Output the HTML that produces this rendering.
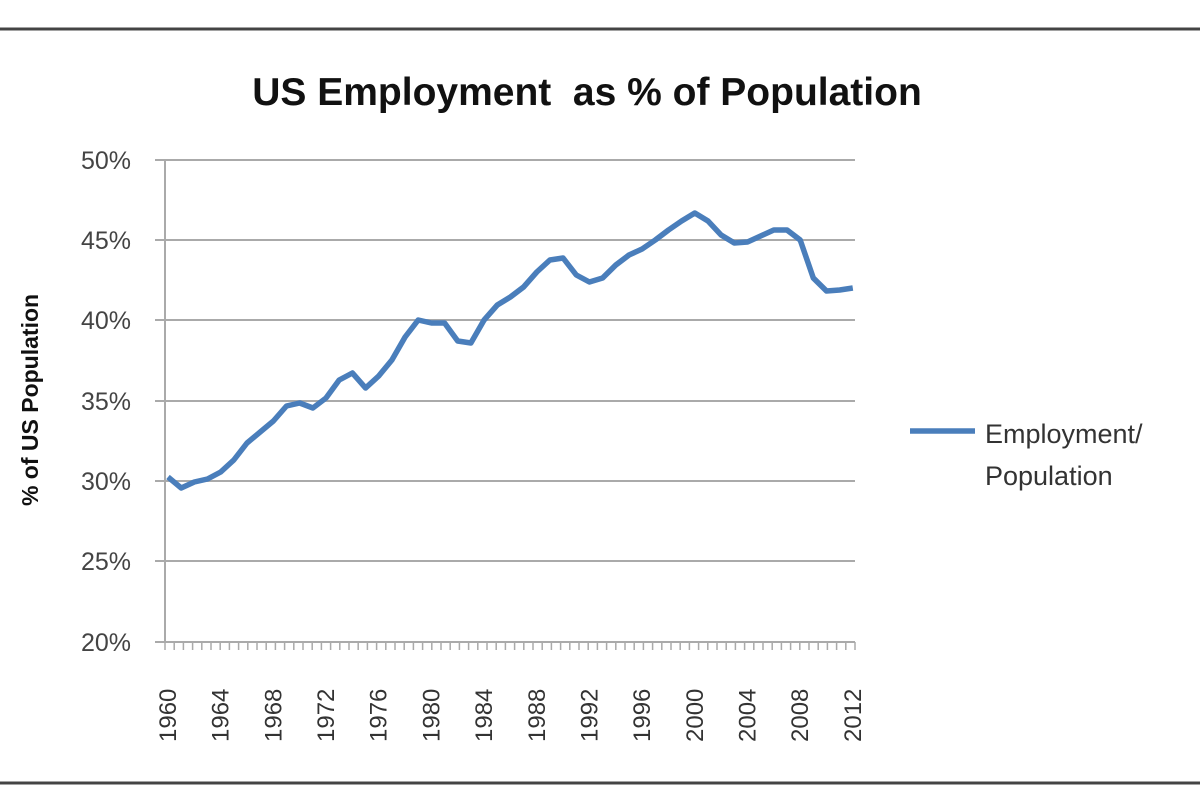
<!DOCTYPE html>
<html><head><style>body{margin:0;background:#fff}</style></head><body>
<svg width="1200" height="800" xmlns="http://www.w3.org/2000/svg" font-family="'Liberation Sans',sans-serif">
<rect width="1200" height="800" fill="#fff"/>
<line x1="0" y1="29" x2="1200" y2="29" stroke="#444" stroke-width="3"/>
<line x1="0" y1="783" x2="1200" y2="783" stroke="#444" stroke-width="3"/>
<text x="587" y="105" font-size="39" font-weight="bold" text-anchor="middle" fill="#111" xml:space="preserve">US Employment  as % of Population</text>
<g stroke="#aaa" stroke-width="2">
<line x1="155" y1="160" x2="855" y2="160"/><line x1="155" y1="240" x2="855" y2="240"/>
<line x1="155" y1="320" x2="855" y2="320"/><line x1="155" y1="401" x2="855" y2="401"/>
<line x1="155" y1="481" x2="855" y2="481"/><line x1="155" y1="561" x2="855" y2="561"/>
<line x1="155" y1="642" x2="855" y2="642"/><line x1="165" y1="160" x2="165" y2="642"/>
</g>
<g stroke="#aaa" stroke-width="1.5" id="ticks"></g>
<g font-size="25" fill="#444" text-anchor="end">
<text x="131" y="169">50%</text><text x="131" y="249">45%</text><text x="131" y="329">40%</text>
<text x="131" y="410">35%</text><text x="131" y="490">30%</text><text x="131" y="570">25%</text><text x="131" y="651">20%</text>
</g>
<g font-size="24" fill="#333" id="xl"></g>
<text transform="translate(38,400) rotate(-90)" font-size="23" font-weight="bold" text-anchor="middle" fill="#111">% of US Population</text>
<polyline id="ln" fill="none" stroke="#4a7ebb" stroke-width="5.5" stroke-linejoin="round"/>
<line x1="910" y1="431" x2="975" y2="431" stroke="#4a7ebb" stroke-width="5.5"/>
<text x="985" y="443" font-size="27" fill="#333">Employment/</text>
<text x="985" y="485" font-size="27" fill="#333">Population</text>
</svg>
<script>
var ys=[477,488,482,479,472,460,443,432,421,406,403,408,398,380,373,388,376,360,337,320,323,323,341,343,320,305,297,287,272,260,258,275,282,278,265,255,249,240,230,221,213,221,235,243,242,236,230,230,240,278,291,290,288];
var p=ys.map(function(y,i){return (168+i*13.17).toFixed(1)+','+y}).join(' ');
document.getElementById('ln').setAttribute('points',p);
var t='';for(var x=165;x<=856;x+=9.2)t+='<line x1="'+x+'" y1="642" x2="'+x+'" y2="650"/>';
document.getElementById('ticks').innerHTML=t;
var l='';for(var yr=1960;yr<=2012;yr+=4){var x=168+(yr-1960)*13.17+8;l+='<text transform="translate('+x+',742) rotate(-90)">'+yr+'</text>';}
document.getElementById('xl').innerHTML=l;
</script>
</body></html>
